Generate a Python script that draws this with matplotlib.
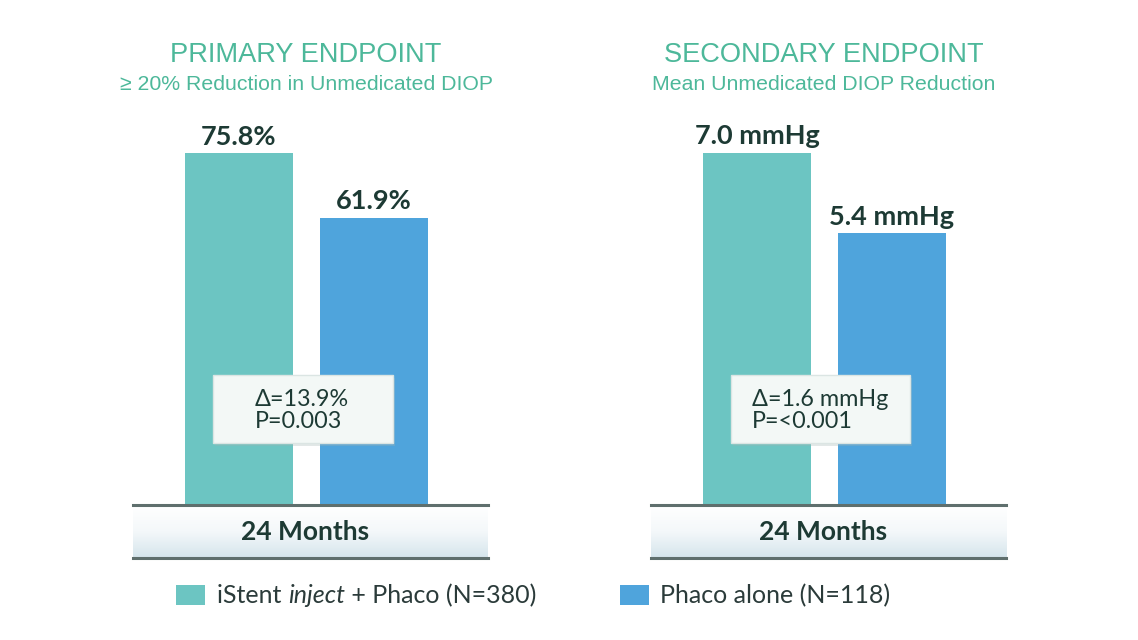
import matplotlib
matplotlib.use("Agg")
import matplotlib.pyplot as plt
import numpy as np
from matplotlib.patches import Rectangle, FancyBboxPatch
from matplotlib.colors import LinearSegmentedColormap

# ---- data ----
groups = ["iStent inject + Phaco (N=380)", "Phaco alone (N=118)"]
primary_values = [75.8, 61.9]
primary_labels = ["75.8%", "61.9%"]
secondary_values = [7.0, 5.4]
secondary_labels = ["7.0 mmHg", "5.4 mmHg"]
primary_stats = ["Δ=13.9%", "P=0.003"]
secondary_stats = ["Δ=1.6 mmHg", "P=<0.001"]
timepoint = "24 Months"
titles = ["PRIMARY ENDPOINT", "SECONDARY ENDPOINT"]
subtitles = ["≥ 20% Reduction in Unmedicated DIOP", "Mean Unmedicated DIOP Reduction"]

TEAL = "#6cc5c2"
BLUE = "#4fa4dc"
TITLE_C = "#4db89a"
DARK = "#1d3a34"
LINE_C = "#5f6f6d"

W, H = 1138, 640
fig = plt.figure(figsize=(W / 100, H / 100), dpi=100)
fig.patch.set_facecolor("white")


def fx(x):
    return x / W


def fy(y):
    return 1 - y / H


panels = [
    dict(x0=133, values=primary_values, labels=primary_labels, stats=primary_stats,
         ymax=87.2, box=(213, 375, 393, 443), tx=255, title=titles[0], sub=subtitles[0], tc=306),
    dict(x0=651, values=secondary_values, labels=secondary_labels, stats=secondary_stats,
         ymax=8.05, box=(731, 375, 910, 443), tx=752, title=titles[1], sub=subtitles[1], tc=824),
]

panel_w = 355
ax_top, ax_bot = 100, 505
unit = 134.5  # px between bar centers
left_off = 106 / unit

for p in panels:
    ax = fig.add_axes([fx(p["x0"]), fy(ax_bot), fx(panel_w), (ax_bot - ax_top) / H])
    ax.set_xlim(-left_off, -left_off + panel_w / unit)
    ax.set_ylim(0, p["ymax"])
    ax.axis("off")
    xs = np.arange(len(p["values"]))
    bars = ax.bar(xs, p["values"], width=108 / unit, color=[TEAL, BLUE], zorder=2)
    for b, lab in zip(bars, p["labels"]):
        ax.annotate(lab, (b.get_x() + b.get_width() / 2, b.get_height()),
                    xytext=(0, 6), textcoords="offset points", ha="center", va="baseline",
                    fontsize=19.5, fontweight="bold", family="Lato", color=DARK)

    # stat box
    bx0, by0, bx1, by1 = p["box"]
    shadow = FancyBboxPatch((fx(bx0) + 0.002, fy(by1) - 0.004), fx(bx1 - bx0), (by1 - by0) / H,
                            boxstyle="square,pad=0", transform=fig.transFigure,
                            facecolor="#9fb3b0", edgecolor="none", alpha=0.3, zorder=3)
    fig.patches.append(shadow)
    box = FancyBboxPatch((fx(bx0), fy(by1)), fx(bx1 - bx0), (by1 - by0) / H,
                         boxstyle="square,pad=0", transform=fig.transFigure,
                         facecolor="#f3f8f6", edgecolor="#dbe5e3", linewidth=1, zorder=4)
    fig.patches.append(box)
    fig.text(fx(p["tx"]), fy(406), p["stats"][0], fontsize=16.8, family="Lato",
             color=DARK, va="baseline", ha="left", zorder=5)
    fig.text(fx(p["tx"]), fy(428), p["stats"][1], fontsize=16.8, family="Lato",
             color=DARK, va="baseline", ha="left", zorder=5)

    # band with gradient
    bax = fig.add_axes([fx(p["x0"]), fy(558), fx(panel_w), (558 - 505) / H])
    grad = np.linspace(0, 1, 100).reshape(-1, 1)
    cmap = LinearSegmentedColormap.from_list("band", ["#ffffff", "#f4f8fa", "#d5e5ec"])
    bax.imshow(grad, aspect="auto", cmap=cmap, extent=(0, 1, 0, 1), origin="upper")
    bax.set_xlim(0, 1)
    bax.set_ylim(0, 1)
    bax.axis("off")
    bax.axhline(1, color=LINE_C, lw=2.2, clip_on=False)
    bax.axhline(0, color=LINE_C, lw=2.2, clip_on=False)
    fig.text(fx(p["x0"] + 172), fy(540), timepoint, fontsize=19, fontweight="bold",
             family="Lato", color=DARK, ha="center", va="baseline")

    # titles
    fig.text(fx(p["tc"]), fy(62), p["title"], fontsize=19.6, family="Liberation Sans",
             color=TITLE_C, ha="center", va="baseline")
    fig.text(fx(p["tc"]), fy(90), p["sub"], fontsize=15.3, family="Liberation Sans",
             color=TITLE_C, ha="center", va="baseline")

# legend
for (x0, col) in [(176, TEAL), (620, BLUE)]:
    fig.patches.append(Rectangle((fx(x0), fy(605)), fx(29), 20 / H, transform=fig.transFigure,
                                 facecolor=col, edgecolor="none"))

leg_kw = dict(fontsize=18, family="Lato", color="#2b3b3a", va="baseline")
t1 = fig.text(fx(217), fy(603), "iStent ", ha="left", **leg_kw)
t2 = fig.text(0, 0, "inject", style="italic", ha="left", **leg_kw)
t3 = fig.text(0, 0, " + Phaco (N=380)", ha="left", **leg_kw)
fig.canvas.draw()
r = fig.canvas.get_renderer()
bb1 = t1.get_window_extent(r)
t2.set_position((bb1.x1 / W, fy(603)))
fig.canvas.draw()
bb2 = t2.get_window_extent(r)
t3.set_position((bb2.x1 / W, fy(603)))
fig.text(fx(660), fy(603), "Phaco alone (N=118)", ha="left", **leg_kw)

fig.savefig("out.png", dpi=100, facecolor="white")
